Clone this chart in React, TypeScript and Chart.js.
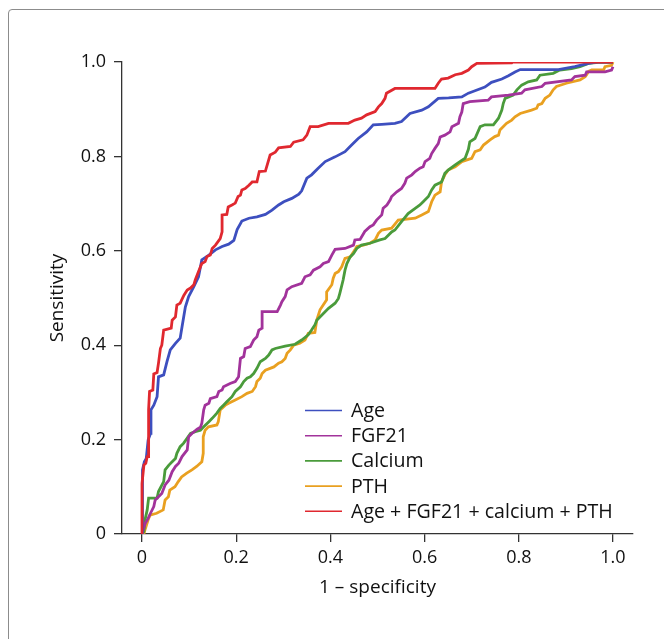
import React, { useEffect, useRef } from "react";
import { Chart, registerables } from "chart.js";

Chart.register(...registerables);

// ---- data (1 - specificity, sensitivity) ----
const ageFpr = [0, 0, 0.002, 0.005, 0.009, 0.013, 0.018, 0.019, 0.025, 0.032, 0.035, 0.046, 0.053, 0.06, 0.071, 0.081, 0.085, 0.092, 0.099, 0.11, 0.12, 0.127, 0.142, 0.156, 0.17, 0.184, 0.195, 0.202, 0.212, 0.227, 0.244, 0.262, 0.276, 0.29, 0.301, 0.318, 0.333, 0.339, 0.35, 0.36, 0.374, 0.389, 0.41, 0.431, 0.445, 0.459, 0.477, 0.491, 0.509, 0.537, 0.551, 0.569, 0.594, 0.608, 0.629, 0.651, 0.679, 0.693, 0.707, 0.728, 0.742, 0.764, 0.778, 0.792, 0.803, 0.884, 0.919, 0.948, 0.965, 1.0];
const ageTpr = [0, 0.11, 0.136, 0.153, 0.16, 0.199, 0.213, 0.263, 0.273, 0.291, 0.333, 0.337, 0.365, 0.39, 0.404, 0.415, 0.439, 0.481, 0.503, 0.524, 0.545, 0.581, 0.591, 0.602, 0.609, 0.614, 0.622, 0.645, 0.663, 0.669, 0.672, 0.677, 0.686, 0.697, 0.704, 0.711, 0.72, 0.727, 0.754, 0.761, 0.775, 0.789, 0.799, 0.81, 0.824, 0.838, 0.852, 0.867, 0.868, 0.87, 0.874, 0.891, 0.898, 0.905, 0.923, 0.924, 0.926, 0.934, 0.939, 0.947, 0.957, 0.964, 0.971, 0.979, 0.984, 0.984, 0.99, 0.997, 1.0, 1.0];

const fgfFpr = [0, 0.001, 0.007, 0.013, 0.018, 0.025, 0.028, 0.035, 0.042, 0.049, 0.057, 0.064, 0.071, 0.078, 0.085, 0.096, 0.099, 0.106, 0.117, 0.124, 0.127, 0.131, 0.134, 0.142, 0.145, 0.159, 0.163, 0.17, 0.173, 0.187, 0.198, 0.205, 0.209, 0.216, 0.219, 0.23, 0.237, 0.244, 0.248, 0.255, 0.255, 0.287, 0.294, 0.297, 0.304, 0.308, 0.318, 0.339, 0.346, 0.357, 0.364, 0.378, 0.385, 0.396, 0.403, 0.41, 0.431, 0.449, 0.452, 0.463, 0.473, 0.484, 0.491, 0.498, 0.509, 0.512, 0.52, 0.527, 0.53, 0.541, 0.551, 0.558, 0.562, 0.573, 0.58, 0.59, 0.597, 0.601, 0.611, 0.615, 0.622, 0.629, 0.633, 0.643, 0.654, 0.658, 0.672, 0.675, 0.679, 0.682, 0.696, 0.735, 0.742, 0.778, 0.806, 0.813, 0.849, 0.856, 0.912, 0.919, 0.941, 0.944, 0.983, 0.997, 1.0];
const fgfTpr = [0, 0.005, 0.023, 0.033, 0.044, 0.058, 0.072, 0.079, 0.086, 0.104, 0.114, 0.132, 0.143, 0.15, 0.164, 0.178, 0.206, 0.213, 0.222, 0.226, 0.235, 0.263, 0.273, 0.277, 0.287, 0.291, 0.302, 0.305, 0.312, 0.319, 0.323, 0.333, 0.372, 0.376, 0.393, 0.397, 0.411, 0.418, 0.432, 0.436, 0.471, 0.471, 0.485, 0.492, 0.503, 0.517, 0.524, 0.531, 0.545, 0.549, 0.559, 0.566, 0.573, 0.577, 0.591, 0.603, 0.605, 0.612, 0.623, 0.624, 0.641, 0.651, 0.655, 0.665, 0.676, 0.69, 0.697, 0.708, 0.715, 0.725, 0.732, 0.743, 0.754, 0.761, 0.768, 0.775, 0.778, 0.789, 0.796, 0.806, 0.817, 0.827, 0.841, 0.845, 0.852, 0.863, 0.87, 0.884, 0.894, 0.912, 0.916, 0.919, 0.926, 0.93, 0.934, 0.941, 0.948, 0.955, 0.962, 0.969, 0.972, 0.979, 0.979, 0.983, 0.99];

const calciumFpr = [0, 0.004, 0.007, 0.011, 0.014, 0.032, 0.035, 0.046, 0.049, 0.057, 0.064, 0.071, 0.074, 0.081, 0.088, 0.096, 0.103, 0.113, 0.124, 0.131, 0.142, 0.149, 0.159, 0.166, 0.173, 0.18, 0.191, 0.198, 0.209, 0.216, 0.223, 0.23, 0.237, 0.244, 0.251, 0.262, 0.269, 0.276, 0.283, 0.304, 0.325, 0.339, 0.353, 0.36, 0.367, 0.371, 0.382, 0.396, 0.41, 0.417, 0.42, 0.427, 0.431, 0.435, 0.442, 0.449, 0.456, 0.466, 0.484, 0.505, 0.516, 0.523, 0.53, 0.537, 0.551, 0.565, 0.58, 0.59, 0.597, 0.608, 0.615, 0.622, 0.636, 0.643, 0.65, 0.665, 0.675, 0.686, 0.693, 0.696, 0.707, 0.718, 0.728, 0.746, 0.757, 0.764, 0.767, 0.771, 0.788, 0.796, 0.806, 0.82, 0.838, 0.845, 0.873, 0.887, 0.912, 0.93, 0.948, 0.969, 1.0];
const calciumTpr = [0, 0.005, 0.033, 0.051, 0.076, 0.076, 0.09, 0.111, 0.136, 0.146, 0.153, 0.16, 0.171, 0.185, 0.192, 0.203, 0.213, 0.217, 0.22, 0.227, 0.238, 0.245, 0.256, 0.266, 0.273, 0.28, 0.291, 0.302, 0.312, 0.323, 0.33, 0.333, 0.34, 0.351, 0.365, 0.372, 0.379, 0.39, 0.393, 0.398, 0.402, 0.411, 0.422, 0.432, 0.443, 0.453, 0.464, 0.478, 0.489, 0.499, 0.51, 0.538, 0.559, 0.573, 0.587, 0.594, 0.605, 0.612, 0.616, 0.623, 0.626, 0.633, 0.64, 0.644, 0.662, 0.679, 0.69, 0.697, 0.704, 0.715, 0.729, 0.739, 0.746, 0.764, 0.771, 0.782, 0.789, 0.796, 0.815, 0.831, 0.838, 0.863, 0.867, 0.867, 0.881, 0.898, 0.912, 0.923, 0.93, 0.941, 0.951, 0.958, 0.962, 0.972, 0.976, 0.983, 0.986, 0.99, 0.997, 0.999, 0.999];

const pthFpr = [0.004, 0.006, 0.013, 0.017, 0.031, 0.045, 0.049, 0.056, 0.059, 0.07, 0.077, 0.084, 0.095, 0.106, 0.116, 0.127, 0.13, 0.13, 0.134, 0.141, 0.159, 0.162, 0.166, 0.177, 0.184, 0.198, 0.212, 0.223, 0.234, 0.241, 0.244, 0.251, 0.255, 0.262, 0.272, 0.28, 0.29, 0.297, 0.304, 0.308, 0.315, 0.322, 0.335, 0.346, 0.353, 0.367, 0.371, 0.378, 0.392, 0.392, 0.403, 0.406, 0.41, 0.417, 0.424, 0.431, 0.442, 0.452, 0.456, 0.47, 0.484, 0.495, 0.502, 0.509, 0.53, 0.544, 0.58, 0.594, 0.608, 0.615, 0.622, 0.633, 0.636, 0.643, 0.65, 0.665, 0.679, 0.7, 0.707, 0.718, 0.725, 0.739, 0.749, 0.757, 0.76, 0.774, 0.785, 0.792, 0.803, 0.827, 0.838, 0.841, 0.849, 0.856, 0.866, 0.873, 0.88, 0.901, 0.93, 0.941, 0.944, 0.948, 0.955, 0.98, 0.983, 0.997, 1.0];
const pthTpr = [0, 0.008, 0.03, 0.04, 0.044, 0.051, 0.072, 0.079, 0.093, 0.1, 0.111, 0.121, 0.129, 0.136, 0.143, 0.153, 0.171, 0.206, 0.22, 0.227, 0.231, 0.238, 0.263, 0.273, 0.277, 0.284, 0.291, 0.298, 0.302, 0.312, 0.323, 0.33, 0.34, 0.347, 0.351, 0.354, 0.362, 0.365, 0.372, 0.383, 0.39, 0.4, 0.404, 0.411, 0.425, 0.427, 0.453, 0.475, 0.496, 0.513, 0.528, 0.542, 0.552, 0.556, 0.566, 0.584, 0.587, 0.602, 0.609, 0.612, 0.616, 0.623, 0.637, 0.644, 0.648, 0.665, 0.669, 0.676, 0.683, 0.704, 0.718, 0.725, 0.746, 0.761, 0.771, 0.778, 0.789, 0.796, 0.81, 0.814, 0.824, 0.835, 0.842, 0.845, 0.856, 0.87, 0.877, 0.884, 0.891, 0.898, 0.902, 0.909, 0.912, 0.923, 0.93, 0.941, 0.948, 0.955, 0.962, 0.969, 0.973, 0.98, 0.983, 0.983, 0.99, 0.993, 1.0];

const comboFpr = [0, 0, 0.004, 0.008, 0.011, 0.014, 0.014, 0.016, 0.023, 0.025, 0.032, 0.035, 0.039, 0.042, 0.046, 0.062, 0.064, 0.071, 0.074, 0.081, 0.089, 0.096, 0.103, 0.11, 0.113, 0.12, 0.127, 0.134, 0.138, 0.145, 0.149, 0.156, 0.166, 0.17, 0.17, 0.18, 0.183, 0.191, 0.198, 0.204, 0.209, 0.212, 0.219, 0.227, 0.234, 0.244, 0.249, 0.262, 0.272, 0.283, 0.29, 0.315, 0.322, 0.342, 0.35, 0.357, 0.374, 0.396, 0.438, 0.452, 0.466, 0.477, 0.495, 0.502, 0.509, 0.516, 0.519, 0.537, 0.622, 0.629, 0.636, 0.65, 0.665, 0.679, 0.693, 0.7, 0.711, 0.785, 0.787, 1.0];
const comboTpr = [0, 0.107, 0.146, 0.15, 0.164, 0.164, 0.263, 0.302, 0.305, 0.339, 0.342, 0.362, 0.393, 0.4, 0.432, 0.436, 0.453, 0.46, 0.485, 0.489, 0.506, 0.517, 0.521, 0.528, 0.538, 0.556, 0.573, 0.577, 0.588, 0.591, 0.605, 0.612, 0.626, 0.64, 0.676, 0.677, 0.693, 0.697, 0.701, 0.715, 0.718, 0.729, 0.732, 0.739, 0.746, 0.746, 0.768, 0.769, 0.803, 0.809, 0.818, 0.821, 0.83, 0.835, 0.845, 0.863, 0.863, 0.87, 0.87, 0.877, 0.881, 0.888, 0.895, 0.905, 0.912, 0.923, 0.934, 0.944, 0.944, 0.955, 0.964, 0.966, 0.973, 0.976, 0.983, 0.99, 0.997, 0.998, 1.0, 1.0];

const seriesLabels = ["Age", "FGF21", "Calcium", "PTH", "Age + FGF21 + calcium + PTH"];
const seriesColors = ["#3d4fbf", "#a2339b", "#4a9b3b", "#e9a020", "#e0282f"];
const xTickValues = [0, 0.2, 0.4, 0.6, 0.8, 1.0];
const yTickValues = [0, 0.2, 0.4, 0.6, 0.8, 1.0];

const FONT = "'Open Sans', 'Noto Sans', sans-serif";
const TEXT = "#111";

function pts(xs: number[], ys: number[]) {
  return xs.map((x, i) => ({ x, y: ys[i] }));
}

const legendPlugin = {
  id: "insideLegend",
  afterDraw(chart: any) {
    const { ctx, chartArea } = chart;
    ctx.save();
    ctx.font = `19.6px ${FONT}`;
    ctx.textBaseline = "middle";
    ctx.textAlign = "left";
    const x0 = chartArea.left + 183;
    const y0 = chartArea.bottom - 123.5;
    chart.data.datasets.forEach((ds: any, i: number) => {
      const y = y0 + i * 25.2;
      ctx.strokeStyle = ds.borderColor;
      ctx.lineWidth = 1.6;
      ctx.beginPath();
      ctx.moveTo(x0, y);
      ctx.lineTo(x0 + 37, y);
      ctx.stroke();
      ctx.fillStyle = TEXT;
      ctx.fillText(ds.label, x0 + 46, y + 1);
    });
    ctx.restore();
  },
};

export default function App() {
  const ref = useRef<HTMLCanvasElement | null>(null);
  useEffect(() => {
    if (!ref.current) return;
    const series = [
      pts(ageFpr, ageTpr),
      pts(fgfFpr, fgfTpr),
      pts(calciumFpr, calciumTpr),
      pts(pthFpr, pthTpr),
      pts(comboFpr, comboTpr),
    ];
    const chart = new Chart(ref.current, {
      type: "line",
      data: {
        datasets: series.map((d, i) => ({
          label: seriesLabels[i],
          data: d,
          borderColor: seriesColors[i],
          backgroundColor: seriesColors[i],
          borderWidth: 2.8,
          pointRadius: 0,
          tension: 0,
          fill: false,
          order: i === 4 ? -1 : i,
        })),
      },
      options: {
        animation: false,
        responsive: false,
        layout: { padding: { top: 62, right: 31, left: 0, bottom: 0 } },
        plugins: { legend: { display: false }, tooltip: { enabled: false } },
        scales: {
          x: {
            type: "linear",
            min: -0.0425,
            max: 1.0425,
            afterBuildTicks: (s: any) => {
              s.ticks = xTickValues.map((v) => ({ value: v }));
            },
            afterFit: (s: any) => {
              s.height = 105;
            },
            ticks: {
              color: TEXT,
              font: { family: FONT, size: 18 },
              padding: 5,
              maxRotation: 0,
              callback: (v: any) => (Number(v) === 0 ? "0" : Number(v).toFixed(1)),
            },
            grid: { drawOnChartArea: false, drawTicks: true, tickLength: 8, color: "#333", lineWidth: 1.3 },
            border: { display: true, color: "#333", width: 1.3 },
            title: {
              display: true,
              text: "1 – specificity",
              color: TEXT,
              font: { family: FONT, size: 19 },
              padding: { top: 0, bottom: 40 },
            },
          },
          y: {
            type: "linear",
            min: 0,
            max: 1,
            afterBuildTicks: (s: any) => {
              s.ticks = yTickValues.map((v) => ({ value: v }));
            },
            afterFit: (s: any) => {
              s.width = 122;
            },
            ticks: {
              color: TEXT,
              font: { family: FONT, size: 18 },
              padding: 8,
              callback: (v: any) => (Number(v) === 0 ? "0" : Number(v).toFixed(1)),
            },
            grid: { drawOnChartArea: false, drawTicks: true, tickLength: 8, color: "#333", lineWidth: 1.3 },
            border: { display: true, color: "#333", width: 1.3 },
            title: {
              display: true,
              text: "Sensitivity",
              color: TEXT,
              font: { family: FONT, size: 19 },
              padding: { top: 46, bottom: 0 },
            },
          },
        },
      },
      plugins: [legendPlugin],
    });
    return () => chart.destroy();
  }, []);

  return (
    <div style={{ position: "fixed", left: 0, top: 0, width: 664, height: 639, overflow: "hidden", background: "#fff" }}>
      <div
        style={{
          position: "absolute",
          left: 8,
          top: 9,
          width: 700,
          height: 700,
          border: "1px solid #8c8c8c",
          borderRadius: 4,
        }}
      />
      <canvas ref={ref} width={664} height={639} style={{ position: "absolute", left: 0, top: 0, width: 664, height: 639 }} />
    </div>
  );
}
